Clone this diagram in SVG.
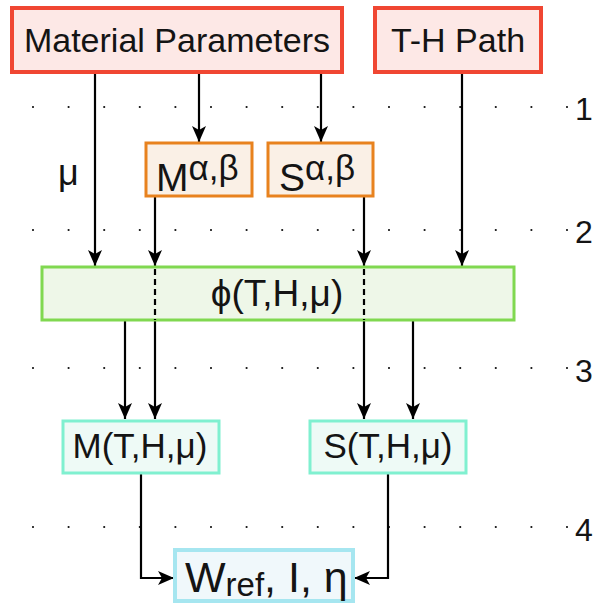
<svg xmlns="http://www.w3.org/2000/svg" width="594" height="603" viewBox="0 0 594 603">
<defs>
<marker id="ah" markerUnits="userSpaceOnUse" markerWidth="18" markerHeight="18" viewBox="-17 -9 18 18" refX="0" refY="0" orient="auto">
<path d="M0,0 L-16,-7 L-12,0 L-16,7 Z" fill="#000"/>
</marker>
</defs>
<style>
.t{font-family:"Liberation Sans",Arial,sans-serif;fill:#141414;}
.c{text-anchor:middle;}
.dots{stroke:#111;stroke-width:2.2;stroke-linecap:round;stroke-dasharray:0 35.6;fill:none;}
.ar{stroke:#000;stroke-width:2.2;fill:none;marker-end:url(#ah);}
.dash{stroke:#000;stroke-width:2.2;fill:none;stroke-dasharray:6 4;}
.red{fill:#fde8e6;stroke:#f04632;stroke-width:4;}
.org{fill:#faf0e6;stroke:#e8821e;stroke-width:3;}
.grn{fill:#eef7e8;stroke:#80d850;stroke-width:3;}
.aqu{fill:#eefaf6;stroke:#80f0d0;stroke-width:3;}
.cyn{fill:#f0f8fb;stroke:#a6e6f0;stroke-width:4;}
</style>
<g id="grid">
<line class="dots" x1="33" y1="107" x2="568" y2="107"/>
<line class="dots" x1="33" y1="230" x2="568" y2="230"/>
<line class="dots" x1="33" y1="368" x2="568" y2="368"/>
<line class="dots" x1="33" y1="527" x2="568" y2="527"/>
<text class="t" x="575" y="120" font-size="32">1</text>
<text class="t" x="575" y="243" font-size="32">2</text>
<text class="t" x="575" y="382" font-size="32">3</text>
<text class="t" x="575" y="541" font-size="32">4</text>
</g>
<g id="connectors">
<line class="ar" x1="95" y1="74" x2="95" y2="266"/>
<line class="ar" x1="199" y1="74" x2="199" y2="142"/>
<line class="ar" x1="321" y1="74" x2="321" y2="142"/>
<line class="ar" x1="462" y1="74" x2="462" y2="266"/>
<line class="ar" x1="155" y1="197" x2="155" y2="266"/>
<line class="ar" x1="364" y1="197" x2="364" y2="266"/>
<line class="ar" x1="125" y1="321" x2="125" y2="419"/>
<line class="ar" x1="413" y1="321" x2="413" y2="419"/>
<line class="ar" x1="155" y1="321" x2="155" y2="419"/>
<line class="ar" x1="364" y1="321" x2="364" y2="419"/>
<path class="ar" d="M141,474 V578 H174"/>
<path class="ar" d="M388,474 V578 H354"/>
</g>
<g id="mat">
<rect class="red" x="12" y="8" width="330" height="64"/>
<text class="t c" x="177" y="52" font-size="34">Material Parameters</text>
</g>
<g id="thpath">
<rect class="red" x="375" y="8" width="166" height="64"/>
<text class="t c" x="458" y="52" font-size="34">T-H Path</text>
</g>
<g id="mu">
<text class="t" x="58" y="185" font-size="36">μ</text>
</g>
<g id="mab">
<rect class="org" x="146" y="143" width="106" height="53"/>
<text class="t" x="156" y="191" font-size="39">M<tspan font-size="35" dy="-11">α,β</tspan></text>
</g>
<g id="sab">
<rect class="org" x="268" y="143" width="105" height="53"/>
<text class="t" x="279" y="191" font-size="39">S<tspan font-size="35" dy="-11">α,β</tspan></text>
</g>
<g id="phi">
<rect class="grn" x="42" y="267" width="472" height="53"/>
<line class="dash" x1="155" y1="269" x2="155" y2="320"/>
<line class="dash" x1="364" y1="269" x2="364" y2="320"/>
<text class="t c" x="277" y="306" font-size="37">ϕ(T,H,μ)</text>
</g>
<g id="mth">
<rect class="aqu" x="63" y="421" width="156" height="52"/>
<text class="t c" x="140" y="458" font-size="35">M(T,H,μ)</text>
</g>
<g id="sth">
<rect class="aqu" x="310" y="421" width="156" height="52"/>
<text class="t c" x="388" y="458" font-size="35">S(T,H,μ)</text>
</g>
<g id="w">
<rect class="cyn" x="175" y="550" width="178" height="51"/>
<text class="t" x="185" y="592" font-size="43">W<tspan font-size="33" dy="4">ref</tspan><tspan dy="-4">, I, η</tspan></text>
</g>
</svg>
